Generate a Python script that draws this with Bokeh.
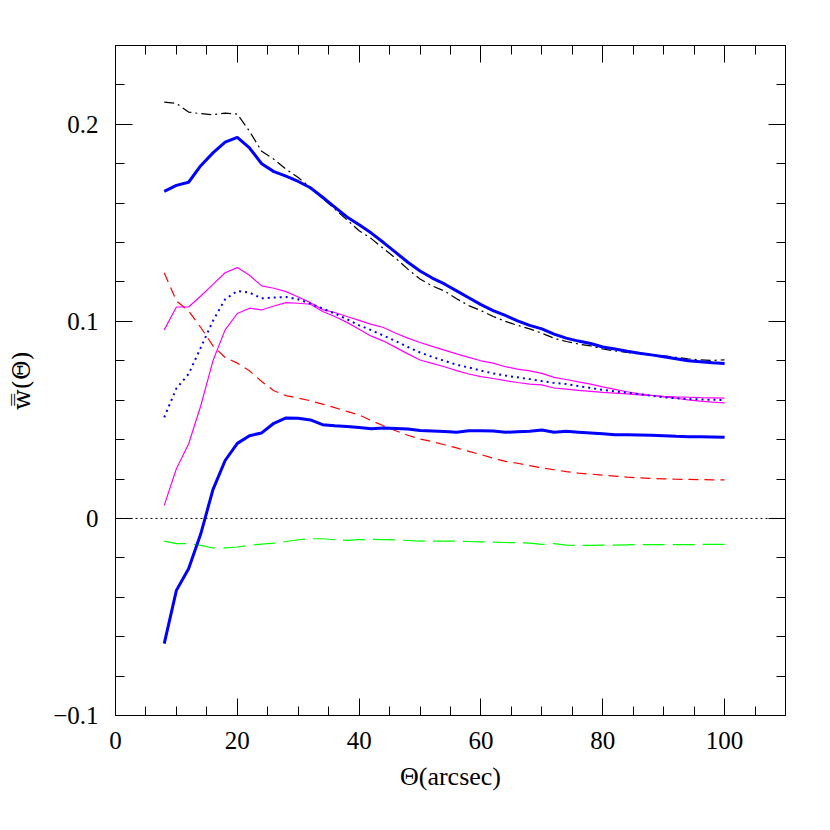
from bokeh.plotting import figure
from bokeh.models import Span, LinearAxis, Range1d, SingleIntervalTicker, CustomJSTickFormatter
from bokeh.embed import file_html
from bokeh.resources import INLINE

theta = list(range(8, 101, 2))

w_total = [0.166, 0.169, 0.1706, 0.179, 0.1855, 0.191, 0.1934, 0.188, 0.180, 0.176,
           0.1737, 0.171, 0.1678, 0.163, 0.158, 0.153, 0.149, 0.1448, 0.140, 0.135,
           0.130, 0.1256, 0.122, 0.119, 0.1155, 0.112, 0.1085, 0.1055, 0.103, 0.1003,
           0.098, 0.0962, 0.0935, 0.0915, 0.090, 0.0888, 0.087, 0.086, 0.0848, 0.0838,
           0.083, 0.082, 0.081, 0.080, 0.0795, 0.079, 0.0786]

w_model = [0.2113, 0.2106, 0.2062, 0.2054, 0.2049, 0.2057, 0.2052, 0.1965, 0.1863, 0.1823,
           0.1772, 0.173, 0.168, 0.1625, 0.157, 0.1515, 0.146, 0.142, 0.137, 0.132,
           0.1265, 0.1215, 0.118, 0.1154, 0.1115, 0.108, 0.1055, 0.1025, 0.100, 0.098,
           0.0962, 0.094, 0.0915, 0.0898, 0.0885, 0.0876, 0.086, 0.085, 0.0842, 0.0835,
           0.083, 0.0825, 0.0818, 0.081, 0.0805, 0.0802, 0.0805]

w_mag_a = [0.0957, 0.1073, 0.1073, 0.1129, 0.1188, 0.1247, 0.1273, 0.1234, 0.118, 0.1168,
           0.1151, 0.1124, 0.1095, 0.106, 0.1045, 0.1025, 0.1005, 0.0985, 0.0969, 0.094,
           0.0915, 0.0893, 0.0873, 0.0854, 0.0835, 0.0817, 0.080, 0.0788, 0.077, 0.0758,
           0.0749, 0.0736, 0.0716, 0.0705, 0.0693, 0.0682, 0.0668, 0.0655, 0.0643, 0.0632,
           0.0625, 0.0617, 0.061, 0.0602, 0.0595, 0.059, 0.0586]

w_mag_b = [0.0066, 0.0252, 0.0378, 0.0572, 0.080, 0.0957, 0.104, 0.1067, 0.1058, 0.1078,
           0.1095, 0.1092, 0.1087, 0.105, 0.1025, 0.0995, 0.096, 0.0925, 0.090, 0.0868,
           0.0835, 0.0804, 0.0787, 0.077, 0.075, 0.0733, 0.072, 0.071, 0.0699, 0.069,
           0.0682, 0.0678, 0.0662, 0.0656, 0.065, 0.0645, 0.064, 0.0636, 0.0632, 0.0627,
           0.0624, 0.062, 0.0617, 0.0615, 0.0613, 0.0612, 0.0611]

w_dotted = [0.0513, 0.066, 0.0733, 0.0867, 0.1003, 0.1112, 0.1154, 0.1146, 0.1117, 0.1121,
            0.1124, 0.1112, 0.109, 0.1065, 0.104, 0.1011, 0.098, 0.0955, 0.0928, 0.090,
            0.087, 0.0842, 0.082, 0.080, 0.078, 0.0766, 0.075, 0.0736, 0.0725, 0.0716,
            0.0707, 0.0697, 0.0688, 0.0682, 0.0672, 0.0662, 0.0652, 0.0645, 0.0638, 0.063,
            0.0622, 0.0615, 0.061, 0.0606, 0.0604, 0.0602, 0.0601]

w_red = [0.1247, 0.1104, 0.1053, 0.0969, 0.0876, 0.0817, 0.0788, 0.0749, 0.0695, 0.0648,
         0.0623, 0.0611, 0.0597, 0.058, 0.0562, 0.0543, 0.0525, 0.0497, 0.047, 0.0445,
         0.0422, 0.0403, 0.039, 0.0374, 0.0358, 0.034, 0.0324, 0.0306, 0.029, 0.028,
         0.0268, 0.0256, 0.0247, 0.0238, 0.023, 0.0225, 0.022, 0.0215, 0.021, 0.0206,
         0.0203, 0.0201, 0.0199, 0.0198, 0.0197, 0.0196, 0.0196]

w_low = [-0.0635, -0.0365, -0.0255, -0.0078, 0.0146, 0.0294, 0.0381, 0.042, 0.0434, 0.0483,
         0.051, 0.0508, 0.050, 0.0476, 0.047, 0.0466, 0.0462, 0.0455, 0.0459, 0.0457,
         0.0454, 0.0446, 0.0444, 0.0441, 0.0437, 0.0445, 0.0445, 0.0444, 0.0437, 0.044,
         0.0442, 0.0449, 0.0437, 0.0442, 0.0438, 0.0434, 0.043, 0.0425, 0.0425, 0.0424,
         0.0422, 0.042, 0.0417, 0.0415, 0.0414, 0.0413, 0.0412]

w_green = [-0.0115, -0.0128, -0.0128, -0.0137, -0.015, -0.0149, -0.0145, -0.0137, -0.013, -0.0125,
           -0.0117, -0.0108, -0.0103, -0.0103, -0.0108, -0.0111, -0.0108, -0.0106, -0.0107, -0.0109,
           -0.0112, -0.0115, -0.0115, -0.0115, -0.0115, -0.0117, -0.0119, -0.012, -0.0122, -0.0123,
           -0.0125, -0.0132, -0.0128, -0.0135, -0.0137, -0.0137, -0.0135, -0.0135, -0.0134, -0.0133,
           -0.0133, -0.0133, -0.0133, -0.0133, -0.0132, -0.0132, -0.0132]

FONT = "Liberation Serif"

p = figure(frame_width=670, frame_height=670,
           x_range=Range1d(0, 110), y_range=Range1d(-0.1, 0.24),
           output_backend="svg", toolbar_location=None,
           min_border_left=115, min_border_top=45, min_border_right=20, min_border_bottom=90)

p.grid.visible = False
p.outline_line_color = "black"
p.outline_line_width = 1
p.background_fill_color = "white"
p.border_fill_color = "white"

xb = p.below[0]
yl = p.left[0]
xb.ticker = SingleIntervalTicker(interval=20, num_minor_ticks=4)
yl.ticker = SingleIntervalTicker(interval=0.1, num_minor_ticks=5)

xt_ax = LinearAxis(ticker=SingleIntervalTicker(interval=20, num_minor_ticks=4),
                   formatter=CustomJSTickFormatter(code="return '';"), major_label_standoff=0)
yr_ax = LinearAxis(ticker=SingleIntervalTicker(interval=0.1, num_minor_ticks=5),
                   formatter=CustomJSTickFormatter(code="return '';"), major_label_standoff=0)
p.add_layout(xt_ax, "above")
p.add_layout(yr_ax, "right")

for ax in (xb, yl, xt_ax, yr_ax):
    ax.major_tick_in = 17
    ax.major_tick_out = 0
    ax.minor_tick_in = 9
    ax.minor_tick_out = 0
    ax.axis_line_color = "black"
    ax.major_tick_line_color = "black"
    ax.minor_tick_line_color = "black"
    ax.major_label_text_font = FONT
    ax.axis_label_text_font = FONT
    ax.axis_label_text_font_style = "normal"
    ax.major_label_text_color = "black"
    ax.axis_label_text_color = "black"

xb.axis_label = "Θ(arcsec)"
yl.axis_label = "w\u033f(Θ)"
xb.major_label_text_font_size = "25px"
yl.major_label_text_font_size = "25px"
xb.major_label_standoff = 16
yl.major_label_standoff = 17
xb.axis_label_text_font_size = "26px"
yl.axis_label_text_font_size = "24px"
yl.axis_label_text_font = "DejaVu Serif"
xb.axis_label_standoff = 10
yl.axis_label_standoff = 14
yl.major_label_overrides = {0: "0", -0.1: "\u22120.1"}

p.add_layout(Span(location=0, dimension="width", line_color="black",
                  line_width=1, line_dash="2 3"))

p.line(theta, w_green, line_color="#00ff00", line_width=1.2, line_dash="22 8")
p.line(theta, w_red, line_color="#ff0000", line_width=1.2, line_dash="10 6")
p.line(theta, w_mag_a, line_color="#ff00ff", line_width=1.2)
p.line(theta, w_mag_b, line_color="#ff00ff", line_width=1.2)
p.line(theta, w_dotted, line_color="#0000ff", line_width=2, line_dash="2 4")
p.line(theta, w_model, line_color="black", line_width=1.2, line_dash="10 4 2 4")
p.line(theta, w_total, line_color="#0000ff", line_width=3)
p.line(theta, w_low, line_color="#0000ff", line_width=3)

open("out.html", "w").write(file_html(p, INLINE))
